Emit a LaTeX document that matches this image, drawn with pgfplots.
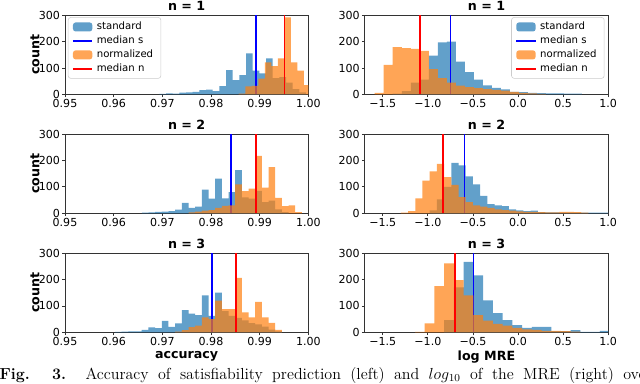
\documentclass[border=0pt]{standalone}
\usepackage{fontspec}
\usepackage{pgfplots}
\pgfplotsset{compat=1.18}
\newfontfamily\dv{DejaVu Sans}
\definecolor{mplblue}{RGB}{31,119,180}
\definecolor{mplorange}{RGB}{255,127,14}
\definecolor{medblue}{RGB}{0,0,255}
\definecolor{medred}{RGB}{255,0,0}

\pgfplotsset{
  panel/.style={
    scale only axis, width=182.5pt, height=59.4pt,
    ymin=0, ymax=300, ytick={0,100,200,300}, yticklabels={0,100,200,300},
    tick pos=left, tick align=outside, major tick length=2.2pt,
    axis line style={black!80, line width=0.6pt},
    every tick/.style={black!80, line width=0.6pt},
    ticklabel style={font=\dv\fontsize{8.3}{9}\selectfont},
    xticklabel style={inner sep=0pt, yshift=-1.6pt},
    yticklabel style={inner sep=0pt, xshift=-1.4pt},
    every axis title/.style={at={(0.5,1)}, anchor=base, inner sep=0pt, yshift=3.4pt,
      font=\dv\bfseries\fontsize{9.5}{11}\selectfont},
    label style={font=\dv\bfseries\fontsize{9.5}{11}\selectfont},
    xlabel style={at={(axis description cs:0.5,-0.308)}, anchor=center},
    ylabel style={at={(axis description cs:-0.1235,0.5)}, anchor=center},
    legend cell align=left,
    legend style={draw=black!20, rounded corners=2pt, fill=white, fill opacity=0.8, text opacity=1,
      font=\dv\fontsize{7.6}{8.6}\selectfont, row sep=1.2pt, inner xsep=3pt, inner ysep=2.5pt,
      nodes={inner xsep=2.8pt, inner ysep=1pt}},
  },
  acc/.style={panel, xmin=0.95, xmax=1.0,
    xtick={0.95,0.96,0.97,0.98,0.99,1.0}, xticklabels={0.95,0.96,0.97,0.98,0.99,1.00},
    ylabel={count}},
  mre/.style={panel, xmin=-1.7, xmax=1.0,
    xtick={-1.5,-1,-0.5,0,0.5,1}, xticklabels={−1.5,−1.0,−0.5,0.0,0.5,1.0}},
  hs/.style={const plot, draw=none, fill=mplblue, fill opacity=0.7,
    legend image code/.code={\fill[##1] (0pt,-3.4pt) rectangle (14.5pt,3.4pt);}},
  hn/.style={const plot, draw=none, fill=mplorange, fill opacity=0.7,
    legend image code/.code={\fill[##1] (0pt,-3.4pt) rectangle (14.5pt,3.4pt);}},
  ms/.style={draw=medblue, line width=1.2pt, fill=none, fill opacity=1,
    legend image code/.code={\draw[##1] (0pt,0pt) -- (14.5pt,0pt);}},
  mn/.style={draw=medred, line width=1.2pt, fill=none, fill opacity=1,
    legend image code/.code={\draw[##1] (0pt,0pt) -- (14.5pt,0pt);}},
}

\begin{document}
\begin{tikzpicture}

% ---------- n = 1, accuracy ----------
\begin{axis}[acc, at={(48.75pt,216.45pt)}, anchor=south west, title={n = 1},
  legend style={at={(0.012,0.975)}, anchor=north west}]
\addplot[hs] coordinates {
 (0.96939,2) (0.97076,4) (0.97213,3) (0.97350,7) (0.97487,8) (0.97624,10)
 (0.97761,16) (0.97898,18) (0.98035,12) (0.98172,31) (0.98309,92) (0.98446,54)
 (0.98583,73) (0.98720,155) (0.98857,90) (0.98994,80) (0.99131,136) (0.99268,62)
 (0.99405,65) (0.99542,45) (0.99679,20) (0.99816,8) (0.99953,8)} \closedcycle;
\addlegendentry{standard}
\addplot[ms] coordinates {(0.9892,0) (0.9892,300)};
\addlegendentry{median s}
\addplot[hn] coordinates {
 (0.98570,3) (0.98704,30) (0.98838,32) (0.98972,60) (0.99106,121) (0.99240,107)
 (0.99374,136) (0.99508,292) (0.99642,121) (0.99776,90) (0.99910,35) (1.00044,35)} \closedcycle;
\addlegendentry{normalized}
\addplot[mn] coordinates {(0.9951,0) (0.9951,300)};
\addlegendentry{median n}
\end{axis}

% ---------- n = 1, log MRE ----------
\begin{axis}[mre, at={(273.6pt,216.45pt)}, anchor=south west, title={n = 1},
  legend style={at={(0.985,0.975)}, anchor=north east}]
\addplot[hs] coordinates {
 (-1.39,3) (-1.29,12) (-1.19,45) (-1.09,56) (-0.99,147) (-0.89,197) (-0.79,200)
 (-0.69,124) (-0.59,84) (-0.49,56) (-0.39,34) (-0.29,25) (-0.19,19) (-0.09,10)
 (0.01,9) (0.11,6) (0.21,5) (0.31,4) (0.41,4) (0.51,3) (0.61,3) (0.71,3)} \closedcycle;
\addlegendentry{standard}
\addplot[ms] coordinates {(-0.75,0) (-0.75,300)};
\addlegendentry{median s}
\addplot[hn] coordinates {
 (-1.59,6) (-1.49,112) (-1.39,179) (-1.29,175) (-1.19,172) (-1.09,165) (-0.99,96)
 (-0.89,62) (-0.79,45) (-0.69,33) (-0.59,28) (-0.49,24) (-0.39,20) (-0.29,17)
 (-0.19,14) (-0.09,10) (0.01,6) (0.11,4) (0.21,2) (0.31,2)} \closedcycle;
\addlegendentry{normalized}
\addplot[mn] coordinates {(-1.09,0) (-1.09,300)};
\addlegendentry{median n}
\end{axis}

% ---------- n = 2, accuracy ----------
\begin{axis}[acc, at={(48.75pt,127.3pt)}, anchor=south west, title={n = 2}]
\addplot[hs] coordinates {
 (0.96579,2) (0.96716,3) (0.96853,5) (0.96990,6) (0.97127,8) (0.97264,14)
 (0.97401,39) (0.97538,20) (0.97675,25) (0.97812,90) (0.97949,55) (0.98086,131)
 (0.98223,56) (0.98360,80) (0.98497,163) (0.98634,60) (0.98771,55) (0.98908,85)
 (0.99045,42) (0.99182,48) (0.99319,15) (0.99456,4) (0.99593,4)} \closedcycle;
\addplot[ms] coordinates {(0.9841,0) (0.9841,300)};
\addplot[hn] coordinates {
 (0.97538,3) (0.97675,6) (0.97812,10) (0.97949,12) (0.98086,20) (0.98223,28)
 (0.98360,30) (0.98497,109) (0.98634,84) (0.98771,93) (0.98908,217) (0.99045,97)
 (0.99182,175) (0.99319,58) (0.99456,27) (0.99593,30) (0.99730,4) (0.99867,4)} \closedcycle;
\addplot[mn] coordinates {(0.9892,0) (0.9892,300)};
\end{axis}

% ---------- n = 2, log MRE ----------
\begin{axis}[mre, at={(273.6pt,127.3pt)}, anchor=south west, title={n = 2}]
\addplot[hs] coordinates {
 (-0.98,11) (-0.90,53) (-0.82,100) (-0.74,191) (-0.66,181) (-0.58,140) (-0.50,109)
 (-0.42,66) (-0.34,35) (-0.26,30) (-0.18,27) (-0.10,15) (-0.02,11) (0.06,8)
 (0.14,10) (0.22,4) (0.30,3) (0.38,3) (0.46,2) (0.54,2) (0.62,2) (0.70,2)
 (0.78,2) (0.86,2) (0.94,2) (1.02,2)} \closedcycle;
\addplot[ms] coordinates {(-0.595,0) (-0.595,300)};
\addplot[hn] coordinates {
 (-1.30,2) (-1.22,8) (-1.14,56) (-1.06,124) (-0.98,159) (-0.90,187) (-0.82,137)
 (-0.74,108) (-0.66,61) (-0.58,42) (-0.50,30) (-0.42,25) (-0.34,20) (-0.26,15)
 (-0.18,12) (-0.10,10) (-0.02,7) (0.06,5) (0.14,5) (0.22,4) (0.30,3) (0.38,3)
 (0.46,5) (0.54,5) (0.62,4) (0.70,2) (0.78,2)} \closedcycle;
\addplot[mn] coordinates {(-0.83,0) (-0.83,300)};
\end{axis}

% ---------- n = 3, accuracy ----------
\begin{axis}[acc, at={(48.75pt,38.0pt)}, anchor=south west, title={n = 3}, xlabel={accuracy}]
\addplot[hs] coordinates {
 (0.96029,2) (0.96166,3) (0.96303,4) (0.96440,4) (0.96577,9) (0.96715,19)
 (0.96852,16) (0.96989,43) (0.97126,21) (0.97263,34) (0.97400,84) (0.97538,71)
 (0.97675,65) (0.97812,140) (0.97949,62) (0.98086,150) (0.98223,80) (0.98360,62)
 (0.98497,55) (0.98635,45) (0.98772,35) (0.98909,30) (0.99046,22) (0.99183,10)
 (0.99320,4) (0.99458,4)} \closedcycle;
\addplot[ms] coordinates {(0.9802,0) (0.9802,300)};
\addplot[hn] coordinates {
 (0.97263,3) (0.97400,8) (0.97538,20) (0.97675,25) (0.97812,57) (0.97949,50)
 (0.98086,120) (0.98223,88) (0.98360,88) (0.98497,206) (0.98635,76) (0.98772,57)
 (0.98909,115) (0.99046,57) (0.99183,36) (0.99320,9) (0.99458,9)} \closedcycle;
\addplot[mn] coordinates {(0.9851,0) (0.9851,300)};
\end{axis}

% ---------- n = 3, log MRE ----------
\begin{axis}[mre, at={(273.6pt,38.0pt)}, anchor=south west, title={n = 3}, xlabel={log MRE}]
\addplot[hs] coordinates {
 (-0.819,46) (-0.711,170) (-0.603,267) (-0.495,216) (-0.387,121) (-0.279,73)
 (-0.171,46) (-0.063,27) (0.045,17) (0.153,21) (0.261,21) (0.369,5) (0.477,5)
 (0.585,8) (0.693,2) (0.801,2) (0.909,6) (1.017,6)} \closedcycle;
\addplot[ms] coordinates {(-0.493,0) (-0.493,300)};
\addplot[hn] coordinates {
 (-1.143,2) (-1.035,34) (-0.927,175) (-0.819,261) (-0.711,198) (-0.603,140)
 (-0.495,65) (-0.387,44) (-0.279,32) (-0.171,25) (-0.063,17) (0.045,11)
 (0.153,9) (0.261,6) (0.369,6) (0.477,5) (0.585,3) (0.693,3)} \closedcycle;
\addplot[mn] coordinates {(-0.696,0) (-0.696,300)};
\end{axis}

% caption line, cut by the page edge as in the reference
\node[anchor=base west, inner sep=0pt, font=\fontsize{12}{14}\selectfont] at (-0.5pt,2.6pt)
  {\makebox[489pt][s]{\textbf{Fig. 3.} Accuracy of satisfiability prediction (left) and $log_{10}$ of the MRE (right) over}};

\pgfresetboundingbox
\useasboundingbox (0pt,0pt) rectangle (480pt,287.25pt);
\end{tikzpicture}
\end{document}
